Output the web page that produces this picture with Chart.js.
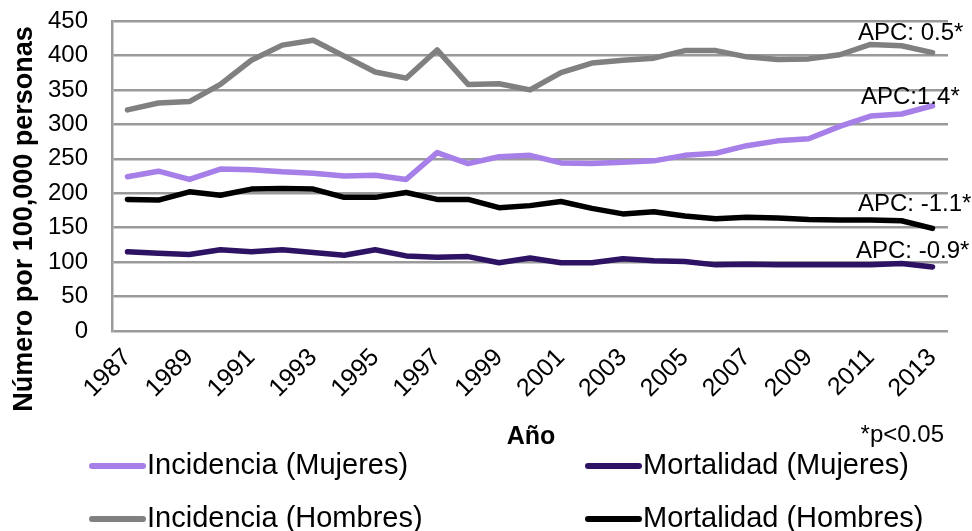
<!DOCTYPE html>
<html>
<head>
<meta charset="utf-8">
<script src="https://cdn.jsdelivr.net/npm/chart.js@4/dist/chart.umd.min.js"></script>
<style>
  html, body { margin: 0; padding: 0; background: #fff; }
  #wrap { width: 972px; height: 531px; position: relative; }
</style>
</head>
<body>
<div id="wrap"><canvas id="c" width="972" height="531"></canvas></div>
<script>
const years = ['1987','1988','1989','1990','1991','1992','1993','1994','1995','1996','1997','1998','1999','2000','2001','2002','2003','2004','2005','2006','2007','2008','2009','2010','2011','2012','2013'];
const incidenciaMujeres = [224,232,220,235,234,231,229,225,226,220,259,243,253,255,244,243,245,247,255,258,269,276,279,297,312,315,327];
const mortalidadMujeres = [115,113,111,118,115,118,114,110,118,109,107,108,99,106,99,99,105,102,101,96,97,96,96,96,96,98,93];
const incidenciaHombres = [321,331,333,358,393,415,422,399,376,367,408,358,359,350,375,389,393,396,407,407,398,394,395,401,416,414,404];
const mortalidadHombres = [191,190,202,197,206,207,206,194,194,201,191,191,179,182,188,178,170,173,167,163,165,164,162,161,161,160,149];
const seriesNames = ['Incidencia (Mujeres)','Mortalidad (Mujeres)','Incidencia (Hombres)','Mortalidad (Hombres)'];
const apcLabels = ['APC: 0.5*','APC:1.4*','APC: -1.1*','APC: -0.9*'];
const yTicks = [0,50,100,150,200,250,300,350,400,450];
const yTitle = 'Número por 100,000 personas';
const xTitle = 'Año';
const note = '*p<0.05';

const FONT = "'Liberation Sans', Arial, sans-serif";
const colors = ['#A67FE8','#2E1263','#808080','#000000'];
const seriesData = [incidenciaMujeres, mortalidadMujeres, incidenciaHombres, mortalidadHombres];

const datasets = seriesData.map((d, i) => ({
  label: seriesNames[i],
  data: d,
  borderColor: colors[i],
  backgroundColor: colors[i],
  borderWidth: 5.5,
  pointRadius: 0,
  tension: 0,
  borderCapStyle: 'round',
  borderJoinStyle: 'round',
  fill: false
}));

const annotPos = [
  {x: 858, y: 33},
  {x: 861, y: 97},
  {x: 858, y: 204},
  {x: 856, y: 251}
];
const legendPos = [
  {x: 89, y: 466},
  {x: 585, y: 466},
  {x: 89, y: 519},
  {x: 585, y: 519}
];

const extras = {
  id: 'extras',
  afterDraw(chart) {
    const ctx = chart.ctx;
    ctx.save();
    ctx.fillStyle = '#000';
    ctx.textBaseline = 'middle';
    // y title
    ctx.save();
    ctx.translate(25, 219);
    ctx.rotate(-Math.PI / 2);
    ctx.font = 'bold 27px ' + FONT;
    ctx.textAlign = 'center';
    ctx.fillText(yTitle, 0, 0);
    ctx.restore();
    // APC annotations
    ctx.font = '24px ' + FONT;
    ctx.textAlign = 'left';
    apcLabels.forEach((t, i) => ctx.fillText(t, annotPos[i].x, annotPos[i].y));
    // Axis title x
    ctx.font = 'bold 25px ' + FONT;
    ctx.textAlign = 'center';
    ctx.fillText(xTitle, 531, 437);
    // significance note
    ctx.font = '24px ' + FONT;
    ctx.textAlign = 'right';
    ctx.fillText(note, 944, 435);
    // legend
    ctx.font = '29px ' + FONT;
    ctx.textAlign = 'left';
    chart.data.datasets.forEach((ds, i) => {
      const p = legendPos[i];
      ctx.strokeStyle = ds.borderColor;
      ctx.lineWidth = 6;
      ctx.lineCap = 'round';
      ctx.beginPath();
      ctx.moveTo(p.x + 3, p.y);
      ctx.lineTo(p.x + 54, p.y);
      ctx.stroke();
      ctx.fillStyle = '#000';
      ctx.fillText(ds.label, p.x + 58, p.y);
    });
    ctx.restore();
  }
};

new Chart(document.getElementById('c'), {
  type: 'line',
  data: { labels: years, datasets },
  options: {
    responsive: false,
    animation: false,
    layout: { padding: { top: 21, right: 24, left: 0, bottom: 0 } },
    plugins: {
      legend: { display: false },
      tooltip: { enabled: false }
    },
    scales: {
      x: {
        type: 'category',
        offset: true,
        grid: { display: false, drawTicks: false },
        border: { display: false },
        ticks: {
          autoSkip: false,
          maxRotation: 45,
          minRotation: 45,
          padding: 12,
          color: '#000',
          font: { family: FONT, size: 25 },
          callback: function(v, i) { return i % 2 === 0 ? years[i] : ''; }
        },
        afterFit: (s) => { s.height = 200; s.paddingTop = 0; }
      },
      y: {
        min: 0,
        max: 450,
        afterBuildTicks: (s) => { s.ticks = yTicks.map(v => ({ value: v })); },
        grid: { color: '#9a9a9a', lineWidth: 2.5, drawTicks: false },
        border: { display: true, color: '#9a9a9a', width: 2.5 },
        ticks: {
          padding: 24,
          color: '#000',
          font: { family: FONT, size: 24 }
        },
        afterFit: (s) => { s.width = 112; s.paddingTop = 0; s.paddingBottom = 0; }
      }
    }
  },
  plugins: [extras]
});
</script>
</body>
</html>
